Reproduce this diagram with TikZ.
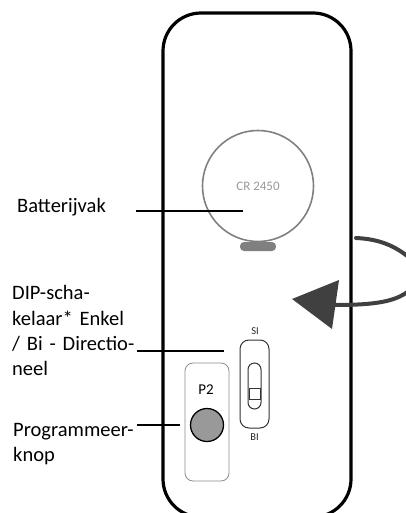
\documentclass[tikz,border=0pt]{standalone}
\usepackage{fontspec}
\setmainfont{Carlito}
\usetikzlibrary{calc}

\definecolor{cellgray}{HTML}{808080}
\definecolor{knobgray}{HTML}{999999}
\definecolor{turngray}{HTML}{404040}

\begin{document}
\begin{tikzpicture}[
    x=1pt, y=-1pt,
    callout/.style={draw=black, line width=1.6pt},
    lbl/.style={anchor=north west, inner sep=0pt, align=left, text width=#1,
                font=\fontsize{20.5}{25.2}\selectfont},
    tiny/.style={inner sep=0pt, font=\fontsize{10.5}{12}\selectfont, text=black!85},
]
\useasboundingbox (0, 0) rectangle (406, 513);
\clip (0, 0) rectangle (406, 513);

% === Housing ===
\draw[line width=3.2pt, rounded corners=38pt] (163, 13) rectangle (351, 517);

% === Battery ===
\node[draw=cellgray, line width=1.6pt, circle, minimum size=111pt, inner sep=0pt] (cell) at (258, 186) {};
\node[text=knobgray, inner sep=0pt, font=\fontsize{13}{15}\selectfont] (celltext) at (258, 186) {CR 2450};
\node[fill=cellgray, rounded corners=4pt, minimum width=36pt, minimum height=9pt, inner sep=0pt] (cellclip) at (258, 246.5) {};

% === Turn arrow ===
\draw[line width=4pt, turngray, line cap=round] (356, 238) .. controls (378, 239) and (395, 245) .. (412, 260);
\draw[line width=4pt, turngray] (412, 288) .. controls (398, 302) and (375, 305) .. (333, 305);
\coordinate (turntip) at (292, 299);
\fill[turngray] (turntip) -- (339, 280) -- (332, 329) -- cycle;

% === P2 button ===
\node[draw=black!45, line width=0.8pt, rounded corners=8pt, minimum width=44pt, minimum height=118pt, inner sep=0pt] (p2box) at (207, 422) {};
\node[inner sep=0pt, font=\fontsize{15}{17}\selectfont] (p2text) at (206, 390) {P2};
\node[draw=black, fill=knobgray, line width=1.3pt, circle, minimum size=33pt, inner sep=0pt] (knob) at (207, 425) {};

% === DIP switch ===
\node[draw=black!80, line width=1pt, rounded corners=9pt, minimum width=29pt, minimum height=88pt, inner sep=0pt] (dip) at (254.5, 384) {};
\node[draw=black!80, line width=1pt, rounded corners=6.5pt, minimum width=13pt, minimum height=46pt, inner sep=0pt] (slot) at (254.5, 386) {};
\node[draw=black!80, line width=1pt, minimum width=11pt, minimum height=10.5pt, inner sep=0pt] (slider) at (254.5, 394) {};
\node[tiny] (si) at (255, 331) {SI};
\node[tiny] (bi) at (254.5, 437) {BI};

% === Labels ===
\node[lbl=119pt] (lblbat) at (17, 198) {Batterijvak};
\node[lbl=125pt] (lbldip) at (12, 285.5) {DIP-scha-\\kelaar* Enkel\\/ Bi - Directio-\\neel};
\node[lbl=124pt] (lblprog) at (13, 423) {Programmeer-\\knop};

% === Callouts ===
\coordinate (batend) at (243, 211);
\coordinate (dipend) at (224, 351);
\coordinate (progend) at (180, 425);
\draw[callout] (batend -| lblbat.east) -- (batend);
\draw[callout] (dipend -| lbldip.east) -- (dipend);
\draw[callout] (progend -| lblprog.east) -- (progend);

\end{tikzpicture}
\end{document}
